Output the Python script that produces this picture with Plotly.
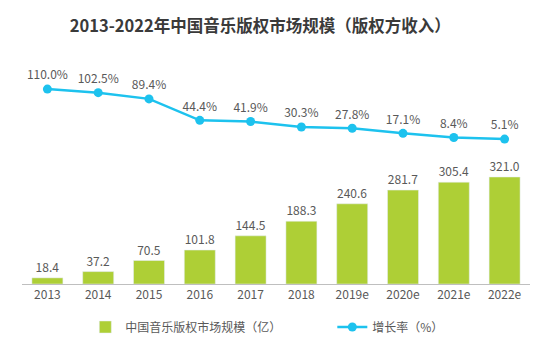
import plotly.graph_objects as go

years = ["2013", "2014", "2015", "2016", "2017", "2018", "2019e", "2020e", "2021e", "2022e"]
market_size = [18.4, 37.2, 70.5, 101.8, 144.5, 188.3, 240.6, 281.7, 305.4, 321.0]
growth_rate = [110.0, 102.5, 89.4, 44.4, 41.9, 30.3, 27.8, 17.1, 8.4, 5.1]

FONT = "Noto Sans CJK SC, Noto Sans, sans-serif"
GRAY = "#595959"

fig = go.Figure()
fig.add_trace(go.Bar(
    x=years, y=market_size, name="中国音乐版权市场规模（亿）",
    marker=dict(color="#AECF36"),
    text=[f"{v:.1f}" for v in market_size], textposition="outside",
    textfont=dict(size=12, color=GRAY, family=FONT), cliponaxis=False,
))
fig.add_trace(go.Scatter(
    x=years, y=growth_rate, name="增长率（%）", yaxis="y2",
    mode="lines+markers+text",
    line=dict(color="#1DC2EE", width=2.5),
    marker=dict(color="#1DC2EE", size=9),
    text=[f"{v:.1f}%" for v in growth_rate], textposition="top center",
    textfont=dict(size=12, color=GRAY, family=FONT), cliponaxis=False,
))

fig.update_layout(
    width=554, height=352,
    margin=dict(l=22, r=24, t=70, b=68, autoexpand=False),
    paper_bgcolor="white", plot_bgcolor="white",
    font=dict(family=FONT, color=GRAY, size=12),
    title=dict(text="<b>2013-2022年中国音乐版权市场规模（版权方收入）</b>",
               xref="paper", x=0.469, xanchor="center", y=0.925, yanchor="middle",
               font=dict(size=16.5, color="#3a3a3a", family=FONT)),
    bargap=0.39,
    showlegend=True,
    legend=dict(orientation="h", xref="container", yref="container",
                x=0.154, xanchor="left", y=0.071, yanchor="middle",
                font=dict(size=12, color=GRAY, family=FONT), itemwidth=30,
                entrywidthmode="pixels", entrywidth=202, bgcolor="rgba(0,0,0,0)"),
    xaxis=dict(type="category", range=[-0.5, 9.5], showgrid=False,
               showline=True, linecolor="#BFBFBF", linewidth=1,
               ticks="", tickfont=dict(size=12, color=GRAY)),
    yaxis=dict(range=[0, 642], visible=False, showgrid=False),
    yaxis2=dict(range=[-299, 150], overlaying="y", visible=False, showgrid=False),
)

fig.write_html("out.html")
